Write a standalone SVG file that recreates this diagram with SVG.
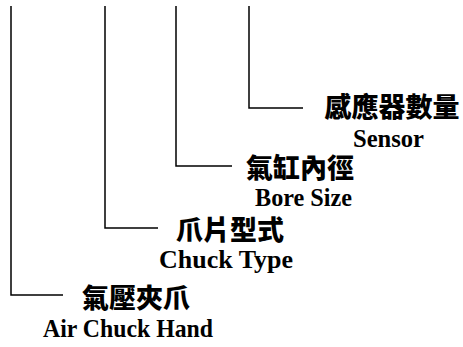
<svg xmlns="http://www.w3.org/2000/svg" width="463" height="347" viewBox="0 0 463 347">
<style>
.ln{fill:none;stroke:#000;stroke-width:1.5}
.zh{font-family:"Noto Sans CJK TC","Noto Sans CJK SC",sans-serif;font-weight:900;font-size:27px;text-anchor:middle;fill:#000}
.en{font-family:"Liberation Serif","Times New Roman",serif;font-weight:bold;font-size:26px;text-anchor:middle;fill:#000}
</style>
<rect width="463" height="347" fill="#fff"/>
<g id="connectors">
<polyline class="ln" points="11,6 11,295 63,295"/>
<polyline class="ln" points="105,6 105,228 158,228"/>
<polyline class="ln" points="176,6 176,166 232,166"/>
<polyline class="ln" points="249,6 249,108 303,108"/>
</g>
<g id="sensor">
<text class="zh" x="392" y="117">感應器數量</text>
<text class="en" x="388.5" y="147" textLength="71" lengthAdjust="spacingAndGlyphs">Sensor</text>
</g>
<g id="bore">
<text class="zh" x="300" y="178">氣缸內徑</text>
<text class="en" x="303.5" y="206" textLength="97" lengthAdjust="spacingAndGlyphs">Bore Size</text>
</g>
<g id="chuck-type">
<text class="zh" x="230" y="240">爪片型式</text>
<text class="en" x="226" y="268" textLength="134" lengthAdjust="spacingAndGlyphs">Chuck Type</text>
</g>
<g id="air-chuck">
<text class="zh" x="136" y="308">氣壓夾爪</text>
<text class="en" x="128" y="337" textLength="170" lengthAdjust="spacingAndGlyphs">Air Chuck Hand</text>
</g>
</svg>
